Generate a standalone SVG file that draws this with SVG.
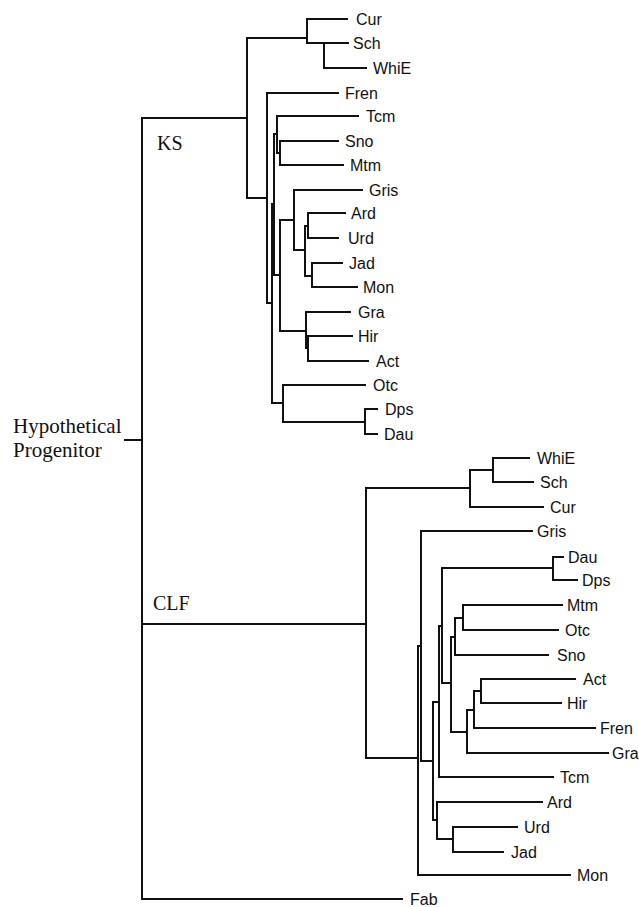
<svg xmlns="http://www.w3.org/2000/svg" width="639" height="907" viewBox="0 0 639 907">
<style>
.e{fill:none;stroke:#111;stroke-width:2;stroke-linecap:square}
.l{font-family:"Liberation Sans",Arial,sans-serif;font-size:16px;fill:#111}
.t{font-family:"Liberation Serif","Times New Roman",serif;font-size:20px;fill:#111}
</style>
<rect width="639" height="907" fill="#fff"/>
<g id="connectors" class="e">
<!-- root -->
<path d="M125 440H142M142 118V899M142 118H247M142 624H366M142 899H402"/>
<!-- KS subtree -->
<path d="M247 38V198M247 38H307M307 19V43M307 19H347M307 43H348M324 43V68M324 68H366"/>
<path d="M247 198H267M267 93V303M267 93H338M267 303H272M272 204V403"/>
<path d="M272 403H283M283 385V422M283 385H365M283 422H365M365 409V434M365 409H377M365 434H377"/>
<path d="M272 204H274M274 134V275M274 134H277M277 116V153M277 116H358M277 153H280M280 141V165M280 141H338M280 165H343"/>
<path d="M274 275H280M280 220V331M280 220H294M294 190V250M294 190H362M294 250H305M305 226V276M305 226H308M308 213V238M308 213H345M308 238H338M305 276H312M312 263V287M312 263H342M312 287H357"/>
<path d="M280 331H306M306 312V348M306 312H350M306 348H308M308 336V361M308 336H352M308 361H368"/>
<!-- CLF subtree -->
<path d="M366 488V758M366 488H470M470 470V507M470 507H543M470 470H493M493 458V482M493 458H529M493 482H533"/>
<path d="M366 758H418M418 646V875M418 875H570M418 646H421M421 531V761M421 531H532M421 761H433M433 702V820"/>
<path d="M433 702H439M439 626V777M439 777H553M439 626H442M442 568V683M442 568H553M553 557V580M553 557H563M553 580H577"/>
<path d="M442 683H451M451 637V732M451 637H455M455 618V655M455 655H548M455 618H463M463 605V630M463 605H562M463 630H558"/>
<path d="M451 732H467M467 710V753M467 753H608M467 710H474M474 691V728M474 728H595M474 691H481M481 679V703M481 679H575M481 703H561"/>
<path d="M433 820H437M437 802V839M437 802H542M437 839H453M453 827V852M453 827H517M453 852H503"/>
</g>
<g id="labels-groups">
<g id="root"><text class="t" x="13" y="433" style="font-size:21px">Hypothetical</text><text class="t" x="13" y="457" style="font-size:21px">Progenitor</text></g>
<g id="KS"><text class="t" x="157" y="150">KS</text></g>
<g id="CLF"><text class="t" x="153" y="610">CLF</text></g>
<g id="Fab"><text class="l" x="410" y="905">Fab</text></g>
<g id="ks-Cur"><text class="l" x="356" y="25">Cur</text></g>
<g id="ks-Sch"><text class="l" x="353" y="49">Sch</text></g>
<g id="ks-WhiE"><text class="l" x="373" y="74">WhiE</text></g>
<g id="ks-Fren"><text class="l" x="345" y="99">Fren</text></g>
<g id="ks-Tcm"><text class="l" x="366" y="122">Tcm</text></g>
<g id="ks-Sno"><text class="l" x="345" y="147">Sno</text></g>
<g id="ks-Mtm"><text class="l" x="350" y="171">Mtm</text></g>
<g id="ks-Gris"><text class="l" x="369" y="196">Gris</text></g>
<g id="ks-Ard"><text class="l" x="351" y="219">Ard</text></g>
<g id="ks-Urd"><text class="l" x="348" y="244">Urd</text></g>
<g id="ks-Jad"><text class="l" x="349" y="269">Jad</text></g>
<g id="ks-Mon"><text class="l" x="363" y="293">Mon</text></g>
<g id="ks-Gra"><text class="l" x="358" y="318">Gra</text></g>
<g id="ks-Hir"><text class="l" x="358" y="342">Hir</text></g>
<g id="ks-Act"><text class="l" x="376" y="367">Act</text></g>
<g id="ks-Otc"><text class="l" x="373" y="391">Otc</text></g>
<g id="ks-Dps"><text class="l" x="385" y="415">Dps</text></g>
<g id="ks-Dau"><text class="l" x="384" y="440">Dau</text></g>
<g id="clf-WhiE"><text class="l" x="537" y="464">WhiE</text></g>
<g id="clf-Sch"><text class="l" x="540" y="488">Sch</text></g>
<g id="clf-Cur"><text class="l" x="550" y="513">Cur</text></g>
<g id="clf-Gris"><text class="l" x="537" y="537">Gris</text></g>
<g id="clf-Dau"><text class="l" x="568" y="563">Dau</text></g>
<g id="clf-Dps"><text class="l" x="582" y="586">Dps</text></g>
<g id="clf-Mtm"><text class="l" x="567" y="611">Mtm</text></g>
<g id="clf-Otc"><text class="l" x="565" y="636">Otc</text></g>
<g id="clf-Sno"><text class="l" x="557" y="661">Sno</text></g>
<g id="clf-Act"><text class="l" x="583" y="685">Act</text></g>
<g id="clf-Hir"><text class="l" x="567" y="709">Hir</text></g>
<g id="clf-Fren"><text class="l" x="600" y="734">Fren</text></g>
<g id="clf-Gra"><text class="l" x="612" y="759">Gra</text></g>
<g id="clf-Tcm"><text class="l" x="560" y="783">Tcm</text></g>
<g id="clf-Ard"><text class="l" x="547" y="808">Ard</text></g>
<g id="clf-Urd"><text class="l" x="524" y="833">Urd</text></g>
<g id="clf-Jad"><text class="l" x="511" y="858">Jad</text></g>
<g id="clf-Mon"><text class="l" x="577" y="881">Mon</text></g>
</g>
</svg>
